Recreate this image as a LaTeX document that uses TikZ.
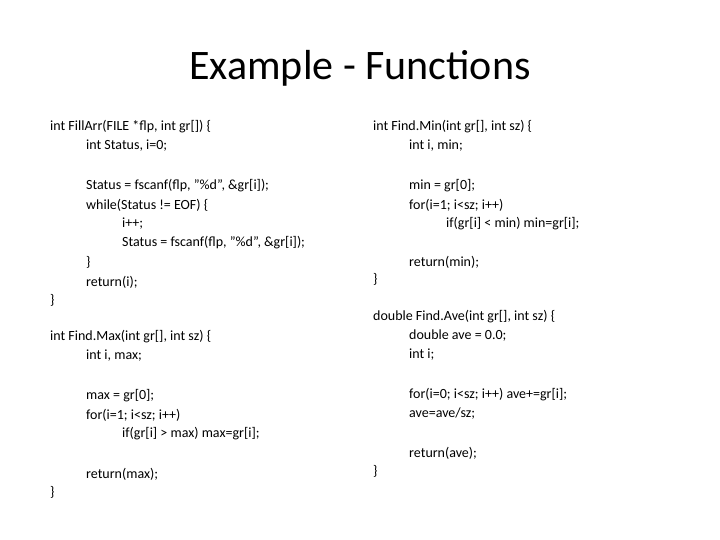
\documentclass[tikz,border=0pt]{standalone}
\usepackage{fontspec}
\setmainfont{Carlito}
\begin{document}
\begin{tikzpicture}[x=1pt,y=-1pt,every node/.style={inner sep=0pt},
 code/.style={anchor=west,font=\fontsize{14}{16}\selectfont}]
\useasboundingbox (0,0) rectangle (720,540);
\node[font=\fontsize{42}{48}\selectfont] (title) at (360,68) {Example - Functions};
% left column
\node[code] (a1) at (50,127) {int FillArr(FILE *flp, int gr[]) \{};
\node[code] (a2) at (86,146) {int Status, i=0;};
\node[code] (a3) at (86,186) {Status = fscanf(flp, "\%d", \&gr[i]);};
\node[code] (a4) at (86,205) {while(Status != EOF) \{};
\node[code] (a5) at (122,224) {i++;};
\node[code] (a6) at (122,243) {Status = fscanf(flp, "\%d", \&gr[i]);};
\node[code] (a7) at (86,262) {\}};
\node[code] (a8) at (86,282) {return(i);};
\node[code] (a9) at (50,300) {\}};
\node[code] (b1) at (50,337) {int Find.Max(int gr[], int sz) \{};
\node[code] (b2) at (86,356) {int i, max;};
\node[code] (b3) at (86,396) {max = gr[0];};
\node[code] (b4) at (86,415) {for(i=1; i<sz; i++)};
\node[code] (b5) at (122,434) {if(gr[i] > max) max=gr[i];};
\node[code] (b6) at (86,474) {return(max);};
\node[code] (b7) at (50,492) {\}};
% right column
\node[code] (c1) at (373,127) {int Find.Min(int gr[], int sz) \{};
\node[code] (c2) at (409,146) {int i, min;};
\node[code] (c3) at (409,186) {min = gr[0];};
\node[code] (c4) at (409,205) {for(i=1; i<sz; i++)};
\node[code] (c5) at (446,224) {if(gr[i] < min) min=gr[i];};
\node[code] (c6) at (409,262) {return(min);};
\node[code] (c7) at (373,279) {\}};
\node[code] (d1) at (373,317) {double Find.Ave(int gr[], int sz) \{};
\node[code] (d2) at (409,336) {double ave = 0.0;};
\node[code] (d3) at (409,355) {int i;};
\node[code] (d4) at (409,395) {for(i=0; i<sz; i++) ave+=gr[i];};
\node[code] (d5) at (409,414) {ave=ave/sz;};
\node[code] (d6) at (409,453) {return(ave);};
\node[code] (d7) at (373,471) {\}};
\end{tikzpicture}
\end{document}
